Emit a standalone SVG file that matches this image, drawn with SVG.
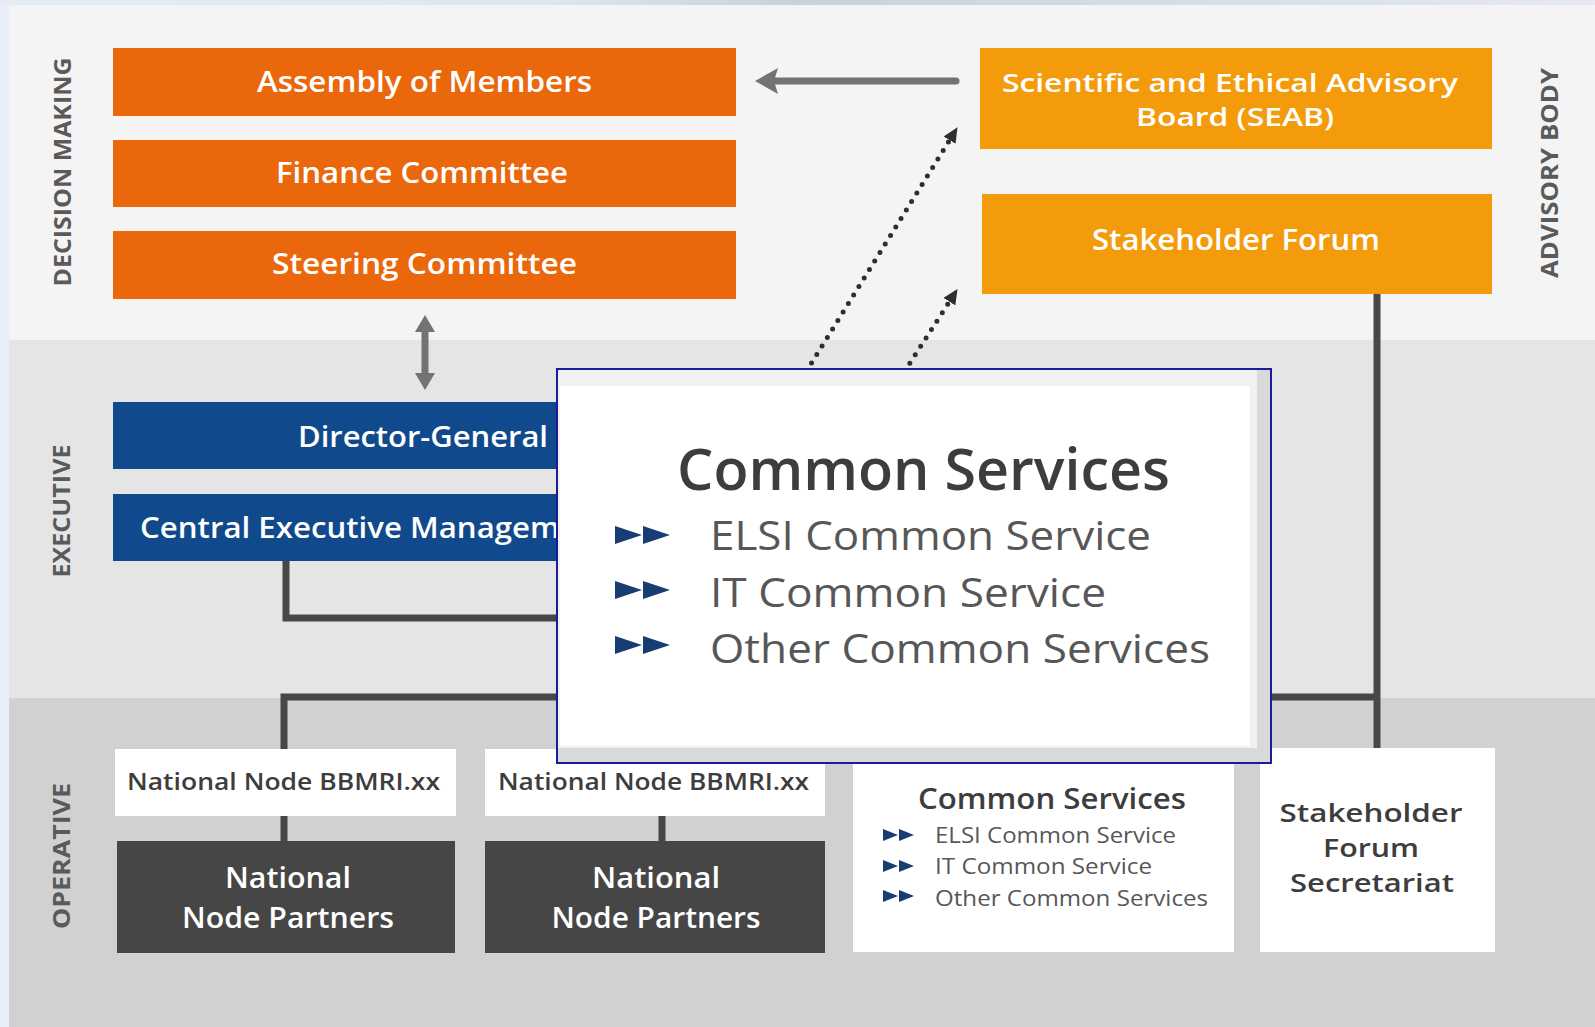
<svg xmlns="http://www.w3.org/2000/svg" width="1595" height="1027" viewBox="0 0 1595 1027">
<style>
.band-lbl{font-family:"Open Sans","Noto Sans","Liberation Sans",sans-serif;font-weight:700;font-size:23px;fill:#5a5a5a;text-anchor:middle}
.wt{font-family:"Open Sans","Noto Sans","Liberation Sans",sans-serif;font-weight:600;font-size:28px;fill:#ffffff;text-anchor:middle}
.dk{font-family:"Open Sans","Noto Sans","Liberation Sans",sans-serif;font-weight:600;fill:#3d3d3d}
.lt{font-family:"Open Sans","Noto Sans","Liberation Sans",sans-serif;font-weight:400;fill:#575757}
.org{fill:#EA670C}
.adv{fill:#F39B0B}
.blue{fill:#114A8C}
.dark{fill:#464646}
.white{fill:#ffffff}
.line{stroke:#474747;stroke-width:7;fill:none}
.garrow{stroke:#737373;stroke-width:7;fill:none}
.dots{stroke:#2e2e2e;stroke-width:5;stroke-linecap:round;stroke-dasharray:0 10;fill:none}
.bul{fill:#173d73}
</style>
<defs>
<marker id="dhead" markerUnits="userSpaceOnUse" markerWidth="16" markerHeight="14" refX="0" refY="7" orient="auto">
<path d="M0,0 L15,7 L0,14 z" fill="#2e2e2e"/>
</marker>
<linearGradient id="topstrip" x1="0" y1="0" x2="1" y2="0">
<stop offset="0" stop-color="#e6ecf6"/>
<stop offset="0.35" stop-color="#dfe5ef"/>
<stop offset="0.5" stop-color="#c9d0dc"/>
<stop offset="0.7" stop-color="#d5dbe6"/>
<stop offset="1" stop-color="#e4e9f2"/>
</linearGradient>
</defs>
<!-- background -->
<rect x="0" y="0" width="1595" height="1027" fill="#e9eef8"/>
<rect x="0" y="0" width="1595" height="6" fill="url(#topstrip)"/>
<rect x="9" y="5" width="1586" height="335" fill="#f4f4f4"/>
<rect x="9" y="340" width="1586" height="358" fill="#e5e5e5"/>
<rect x="9" y="698" width="1586" height="329" fill="#d1d1d1"/>
<!-- band labels -->
<text class="band-lbl" transform="translate(71,172) rotate(-90)" textLength="229" lengthAdjust="spacingAndGlyphs">DECISION MAKING</text>
<text class="band-lbl" transform="translate(70,511) rotate(-90)" textLength="133" lengthAdjust="spacingAndGlyphs">EXECUTIVE</text>
<text class="band-lbl" transform="translate(70,856) rotate(-90)" textLength="146" lengthAdjust="spacingAndGlyphs">OPERATIVE</text>
<text class="band-lbl" transform="translate(1558,173) rotate(-90)" textLength="210" lengthAdjust="spacingAndGlyphs">ADVISORY BODY</text>

<!-- connectors -->
<g id="connectors">
<path class="line" d="M286,561 V618 H620"/>
<path class="line" d="M284,749 V697 H1377"/>
<path class="line" d="M1377,294 V748"/>
<path class="line" d="M284,815 V842"/>
<path class="line" d="M662,815 V842"/>
<!-- SEAB -> Assembly -->
<path class="garrow" d="M956,81 H772" stroke-linecap="round"/>
<polygon points="755,81 778,68 774,81 778,94" fill="#737373"/>
<!-- Steering <-> Director -->
<path class="garrow" d="M425,330 V375"/>
<polygon points="425,315 435,332 415,332" fill="#737373"/>
<polygon points="425,390 435,373 415,373" fill="#737373"/>
<!-- dotted arrows -->
<path class="dots" d="M801,380 L949.6,140.1" marker-end="url(#dhead)"/>
<path class="dots" d="M899,380 L949.4,301.7" marker-end="url(#dhead)"/>
</g>

<!-- decision making -->
<g id="assembly">
<rect class="org" x="113" y="48" width="623" height="68"/>
<text class="wt" x="424.5" y="92" textLength="335" lengthAdjust="spacingAndGlyphs">Assembly of Members</text>
</g>
<g id="finance">
<rect class="org" x="113" y="140" width="623" height="67"/>
<text class="wt" x="422" y="183" textLength="292" lengthAdjust="spacingAndGlyphs">Finance Committee</text>
</g>
<g id="steering">
<rect class="org" x="113" y="231" width="623" height="68"/>
<text class="wt" x="424.5" y="274" textLength="305" lengthAdjust="spacingAndGlyphs">Steering Committee</text>
</g>
<!-- advisory -->
<g id="seab">
<rect class="adv" x="980" y="48" width="512" height="101"/>
<text class="wt" x="1230" y="92" style="font-size:25px" textLength="456" lengthAdjust="spacingAndGlyphs">Scientific and Ethical Advisory</text>
<text class="wt" x="1235" y="126" style="font-size:25px" textLength="198" lengthAdjust="spacingAndGlyphs">Board (SEAB)</text>
</g>
<g id="stakeholder-forum">
<rect class="adv" x="982" y="194" width="510" height="100"/>
<text class="wt" x="1236" y="250" textLength="288" lengthAdjust="spacingAndGlyphs">Stakeholder Forum</text>
</g>
<!-- executive -->
<g id="director-general">
<rect class="blue" x="113" y="402" width="623" height="67"/>
<text class="wt" x="423" y="447" textLength="250" lengthAdjust="spacingAndGlyphs">Director-General</text>
</g>
<g id="central-executive">
<rect class="blue" x="113" y="494" width="623" height="67"/>
<text class="wt" x="140" y="538" style="text-anchor:start" textLength="470" lengthAdjust="spacingAndGlyphs">Central Executive Management</text>
</g>
<!-- operative -->
<g id="node1">
<rect class="white" x="115" y="749" width="341" height="67"/>
<text class="dk" x="127" y="790" font-size="24" textLength="313" lengthAdjust="spacingAndGlyphs">National Node BBMRI.xx</text>
</g>
<g id="node2">
<rect class="white" x="485" y="749" width="340" height="67"/>
<text class="dk" x="498" y="790" font-size="24" textLength="311" lengthAdjust="spacingAndGlyphs">National Node BBMRI.xx</text>
</g>
<g id="partners1">
<rect class="dark" x="117" y="841" width="338" height="112"/>
<text class="wt" x="288" y="888" style="font-size:29px" textLength="126" lengthAdjust="spacingAndGlyphs">National</text>
<text class="wt" x="288" y="928" style="font-size:29px" textLength="212" lengthAdjust="spacingAndGlyphs">Node Partners</text>
</g>
<g id="partners2">
<rect class="dark" x="485" y="841" width="340" height="112"/>
<text class="wt" x="656" y="888" style="font-size:29px" textLength="128" lengthAdjust="spacingAndGlyphs">National</text>
<text class="wt" x="656" y="928" style="font-size:29px" textLength="209" lengthAdjust="spacingAndGlyphs">Node Partners</text>
</g>
<g id="common-services">
<rect class="white" x="853" y="748" width="381" height="204"/>
<text class="dk" x="1052" y="809" font-size="29" text-anchor="middle" fill="#444" textLength="268" lengthAdjust="spacingAndGlyphs">Common Services</text>
<polygon class="bul" points="883,829 898,835 883,841"/><polygon class="bul" points="899,829 914,835 899,841"/>
<polygon class="bul" points="883,860 898,866 883,872"/><polygon class="bul" points="899,860 914,866 899,872"/>
<polygon class="bul" points="883,890 898,896 883,902"/><polygon class="bul" points="899,890 914,896 899,902"/>
<text class="lt" x="935" y="843" font-size="22" textLength="241" lengthAdjust="spacingAndGlyphs">ELSI Common Service</text>
<text class="lt" x="935" y="874" font-size="22" textLength="217" lengthAdjust="spacingAndGlyphs">IT Common Service</text>
<text class="lt" x="935" y="906" font-size="22" textLength="273" lengthAdjust="spacingAndGlyphs">Other Common Services</text>
</g>
<g id="sf-secretariat">
<rect class="white" x="1260" y="748" width="235" height="204"/>
<text class="dk" x="1371" y="822" font-size="25" text-anchor="middle" textLength="183" lengthAdjust="spacingAndGlyphs">Stakeholder</text>
<text class="dk" x="1371" y="857" font-size="25" text-anchor="middle" textLength="96" lengthAdjust="spacingAndGlyphs">Forum</text>
<text class="dk" x="1372" y="892" font-size="25" text-anchor="middle" textLength="164" lengthAdjust="spacingAndGlyphs">Secretariat</text>
</g>

<!-- overlay callout -->
<g id="common-services-callout">
<rect x="557" y="369" width="714" height="394" fill="#d9d9d9" stroke="#1c1c96" stroke-width="2"/>
<rect x="558" y="370" width="699" height="378" fill="#f1f1f1"/>
<rect x="560" y="386" width="690" height="360" fill="#ffffff"/>
<text class="dk" x="923.5" y="490" font-size="58" text-anchor="middle" fill="#4a4a4a" textLength="493" lengthAdjust="spacingAndGlyphs">Common Services</text>
<polygon class="bul" points="615,526 642,535 615,544"/><polygon class="bul" points="643,526 670,535 643,544"/>
<polygon class="bul" points="615,581 642,590 615,599"/><polygon class="bul" points="643,581 670,590 643,599"/>
<polygon class="bul" points="615,636 642,645 615,654"/><polygon class="bul" points="643,636 670,645 643,654"/>
<text class="lt" x="710" y="550" font-size="40" fill="#5a5a5a" textLength="441" lengthAdjust="spacingAndGlyphs">ELSI Common Service</text>
<text class="lt" x="710" y="607" font-size="40" fill="#5a5a5a" textLength="396" lengthAdjust="spacingAndGlyphs">IT Common Service</text>
<text class="lt" x="710" y="663" font-size="40" fill="#5a5a5a" textLength="500" lengthAdjust="spacingAndGlyphs">Other Common Services</text>
</g>
</svg>
